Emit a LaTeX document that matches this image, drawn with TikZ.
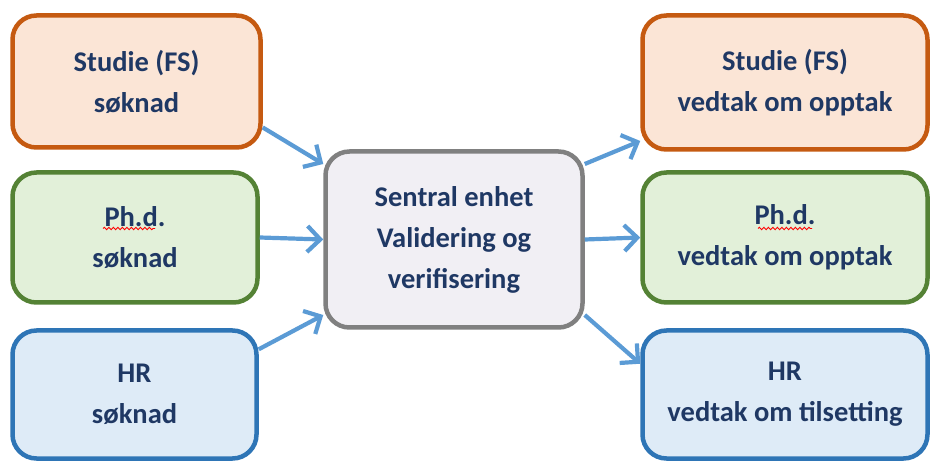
\documentclass[tikz,border=0pt]{standalone}
\usepackage{fontspec}
\setmainfont{Carlito}
\usetikzlibrary{arrows.meta,calc,decorations.pathmorphing}

\definecolor{orangeline}{HTML}{C55A11}
\definecolor{orangefill}{HTML}{FBE5D6}
\definecolor{greenline}{HTML}{548235}
\definecolor{greenfill}{HTML}{E2F0D9}
\definecolor{blueline}{HTML}{2E75B6}
\definecolor{bluefill}{HTML}{DEEBF7}
\definecolor{greyline}{HTML}{808080}
\definecolor{greyfill}{HTML}{F1EFF4}
\definecolor{arrowblue}{HTML}{5B9BD5}
\definecolor{textnavy}{HTML}{1F3864}

\begin{document}
\begin{tikzpicture}[x=1pt,y=-1pt,
	box/.style={draw, line width=4.5pt, rounded corners=24pt, align=center, inner sep=0pt,
		text=textnavy, font=\fontsize{28.5}{41}\selectfont\bfseries},
	studie/.style={box, draw=orangeline, fill=orangefill},
	phd/.style={box, draw=greenline, fill=greenfill},
	hr/.style={box, draw=blueline, fill=bluefill},
	sentral/.style={box, draw=greyline, fill=greyfill},
	flow/.style={arrowblue, line width=4.2pt, -{Straight Barb[length=13pt,width=26pt]}},
	spell/.style={red, line width=0.9pt, decorate, decoration={snake, amplitude=1.2pt, segment length=4.5pt}}]
	\useasboundingbox (0,0) rectangle (932,462);
	% left column
	\node[studie, minimum width=248pt, minimum height=132pt] (studieInn) at (136.5,81.5) {Studie (FS)\\søknad};
	\node[phd, minimum width=245pt, minimum height=130pt] (phdInn) at (135,237.5) {Ph.d.\\søknad};
	\node[hr, minimum width=244pt, minimum height=128pt] (hrInn) at (134.5,394.5) {HR\\søknad};
	% centre
	\node[sentral, minimum width=257pt, minimum height=176pt] (sentral) at (454,239.5) {Sentral enhet\\Validering og\\verifisering};
	% right column
	\node[studie, minimum width=285pt, minimum height=134pt] (studieUt) at (785,82.5) {Studie (FS)\\vedtak om opptak};
	\node[phd, minimum width=285pt, minimum height=130pt] (phdUt) at (785,237.5) {Ph.d.\\vedtak om opptak};
	\node[hr, minimum width=285pt, minimum height=128pt] (hrUt) at (785,394.5) {HR\\vedtak om tilsetting};
	% spell check marks
	\draw[spell] ($(phdInn.center)+(-32,-9)$) -- ++(52,0);
	\draw[spell] ($(phdUt.center)+(-27,-9)$) -- ++(54,0);
	% arrows
	\draw[flow] (studieInn.-20) -- (sentral.150);
	\draw[flow] (phdInn.east) -- (sentral.west);
	\draw[flow] (hrInn.20) -- (sentral.210);
	\draw[flow] (sentral.30) -- (studieUt.202);
	\draw[flow] (sentral.east) -- (phdUt.west);
	\draw[flow] (sentral.-30) -- (hrUt.168);
\end{tikzpicture}
\end{document}
